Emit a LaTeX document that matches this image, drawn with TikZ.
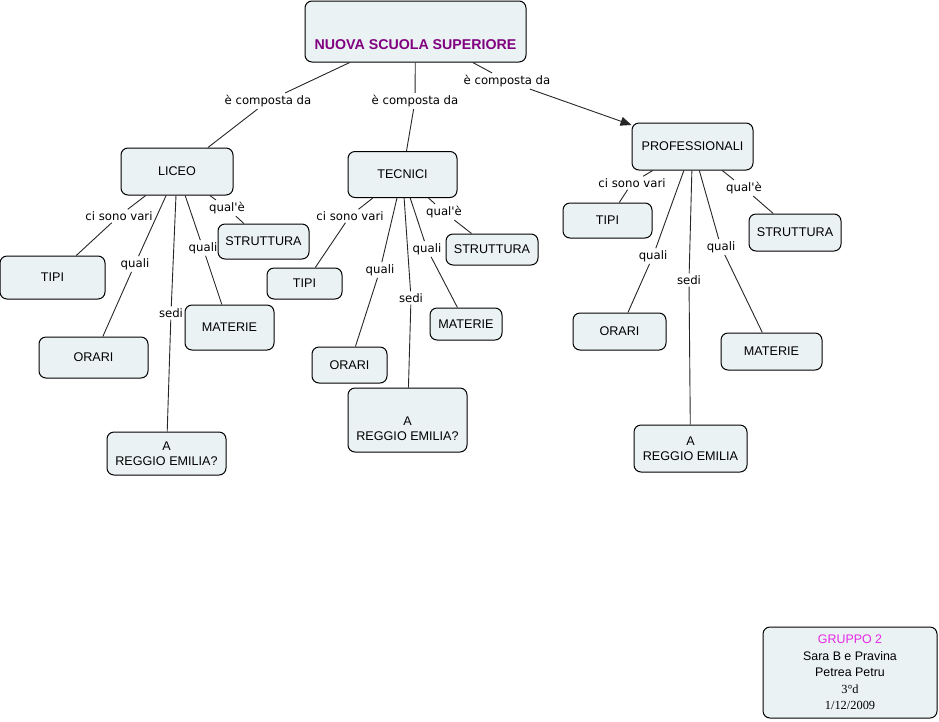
\documentclass[tikz,border=0pt]{standalone}
\usepackage{fontspec}
\setmainfont{Liberation Sans}
\newfontfamily\linkfont[Ligatures=TeXOff]{DejaVu Sans}
\newfontfamily\datefont{Liberation Serif}
\usetikzlibrary{arrows.meta}
\definecolor{boxfill}{RGB}{235,242,244}
\definecolor{titlepurple}{RGB}{128,0,128}
\definecolor{groupmagenta}{RGB}{230,40,230}

\tikzstyle{concept} = [draw=black, fill=boxfill, line width=1pt,
    rectangle, rounded corners=7pt, align=center, inner sep=2pt,
    font=\fontsize{12.6}{15}\selectfont]
\tikzstyle{linkword} = [inner sep=2pt, font=\linkfont\fontsize{11.7}{14}\selectfont]
\tikzstyle{link} = [draw=black!85, line width=0.9pt]

\begin{document}
\begin{tikzpicture}[x=1pt, y=-1pt]
\useasboundingbox (0,0) rectangle (939,721);

\node [concept, minimum width=221, minimum height=61,
    font=\bfseries\fontsize{14.2}{21}\selectfont, text=titlepurple] (root) at (415.5,31.5)
    {\strut\\NUOVA SCUOLA SUPERIORE};

\node [concept, minimum width=112, minimum height=47] (liceo) at (177,171.5) {LICEO};
\node [concept, minimum width=109, minimum height=46] (tecnici) at (402.5,174.5) {TECNICI};
\node [concept, minimum width=121, minimum height=47] (prof) at (692.5,146.5) {PROFESSIONALI};

\node [concept, minimum width=105, minimum height=43] (ltipi) at (52.5,277.5) {TIPI};
\node [concept, minimum width=91, minimum height=35] (lstrut) at (263.5,241.5) {STRUTTURA};
\node [concept, minimum width=89, minimum height=45] (lmat) at (229.5,327.5) {MATERIE};
\node [concept, minimum width=109, minimum height=41] (lorari) at (93.5,357.5) {ORARI};
\node [concept, minimum width=119, minimum height=43] (lsedi) at (166.5,453.5) {A\\REGGIO EMILIA?};

\node [concept, minimum width=75, minimum height=31] (ttipi) at (304.5,283.5) {TIPI};
\node [concept, minimum width=92, minimum height=31] (tstrut) at (492,249.5) {STRUTTURA};
\node [concept, minimum width=72, minimum height=32] (tmat) at (466,324) {MATERIE};
\node [concept, minimum width=75, minimum height=36] (torari) at (349.5,365) {ORARI};
\node [concept, minimum width=119, minimum height=64] (tsedi) at (407.5,420) {\strut\\A\\REGGIO EMILIA?};

\node [concept, minimum width=89, minimum height=35] (ptipi) at (607.5,220.5) {TIPI};
\node [concept, minimum width=92, minimum height=37] (pstrut) at (795,232.5) {STRUTTURA};
\node [concept, minimum width=101, minimum height=37] (pmat) at (771.5,351.5) {MATERIE};
\node [concept, minimum width=93, minimum height=37] (porari) at (619.5,331.5) {ORARI};
\node [concept, minimum width=113, minimum height=47] (psedi) at (690.5,448.5) {A\\REGGIO EMILIA};

\node [concept, minimum width=174, minimum height=91, font=\fontsize{12.4}{16.5}\selectfont] (gruppo) at (850,672.5)
    {\textcolor{groupmagenta}{GRUPPO 2}\\Sara B e Pravina\\Petrea Petru\\{\datefont 3°d}\\{\datefont 1/12/2009}};

\node [linkword] (comp1) at (268,101) {è composta da};
\node [linkword] (comp2) at (415,101) {è composta da};
\node [linkword] (comp3) at (507,81) {è composta da};

\node [linkword] (lvari) at (119,216) {ci sono vari};
\node [linkword] (lquali1) at (135,264) {quali};
\node [linkword] (lsedilab) at (171,313) {sedi};
\node [linkword] (lquali2) at (203,248) {quali};
\node [linkword] (lquale) at (227,208) {qual'è};

\node [linkword] (tvari) at (350,216) {ci sono vari};
\node [linkword] (tquali1) at (380,270) {quali};
\node [linkword] (tsedilab) at (411,298) {sedi};
\node [linkword] (tquali2) at (427,249) {quali};
\node [linkword] (tquale) at (444,212) {qual'è};

\node [linkword] (pvari) at (632,183) {ci sono vari};
\node [linkword] (pquali1) at (653,256) {quali};
\node [linkword] (psedilab) at (689,280) {sedi};
\node [linkword] (pquali2) at (721,247) {quali};
\node [linkword] (pquale) at (744,188) {qual'è};

\draw [link] (root) -- (comp1) -- (liceo);
\draw [link] (root) -- (comp2) -- (tecnici);
\draw [link, -{Triangle[length=11pt, width=9pt]}] (root) -- (comp3) -- (prof);

\foreach \src/\g in {liceo/l, tecnici/t, prof/p}{
    \draw [link] (\src) -- (\g vari) -- (\g tipi);
    \draw [link] (\src) -- (\g quali1) -- (\g orari);
    \draw [link] (\src) -- (\g sedilab) -- (\g sedi);
    \draw [link] (\src) -- (\g quali2) -- (\g mat);
    \draw [link] (\src) -- (\g quale) -- (\g strut);
}
\end{tikzpicture}
\end{document}
